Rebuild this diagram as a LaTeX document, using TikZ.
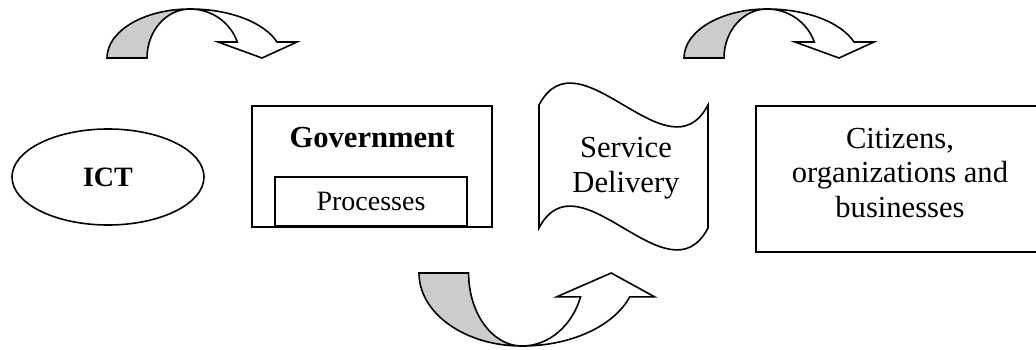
\documentclass[tikz,border=0pt]{standalone}
\usepackage{fontspec}
\setmainfont{Liberation Serif}
\usetikzlibrary{shapes.geometric,positioning}

\tikzset{
	box/.style={draw,rectangle,inner sep=0pt},
	small/.style={font=\fontsize{28}{32}\selectfont},
	% curved block arrow: shaded back face on the left, head on the right
	bentarrow/.pic={
		\filldraw[fill=black!20](0,0)arc[start angle=180,end angle=90,x radius=83,y radius=49]
			arc[start angle=90,end angle=180,x radius=43,y radius=49]--cycle;
		\filldraw[fill=white](83,49)arc[start angle=90,end angle=19.06,x radius=92,y radius=49]
			--(190,16)--(155,0)--(111,16)--(130.3,16)
			arc[start angle=19.06,end angle=90,x radius=50,y radius=49]--cycle;
	}
}

\begin{document}
\begin{tikzpicture}[x=1pt,y=1pt,line width=1.6pt,font=\fontsize{30.6}{34.5}\selectfont]
	\useasboundingbox(0,0)rectangle(1036,349);
	\clip(0,0)rectangle(1036,349);
	% the blocks
	\node[ellipse,draw,minimum width=192pt,minimum height=96pt,inner sep=0pt,
		font=\fontsize{28}{32}\selectfont\bfseries](ict)at(108,172){ICT};
	\node[box,minimum width=240pt,minimum height=121pt](gov)at(372,182.5){};
	\node[font=\fontsize{30.6}{34.5}\selectfont\bfseries,anchor=base](govname)at(372,202){Government};
	\node[box,small,minimum width=192pt,minimum height=49pt,anchor=south](proc)at(371,122){Processes};
	\draw(539,244)..controls(579,320)and(668,168)..(708,244)--(708,121)
		..controls(668,45)and(579,197)..(539,121)--cycle;
	\node[align=center](delivery)at(626,181){Service\\Delivery};
	\node[box,minimum width=288pt,minimum height=146pt](citizens)at(900,170){};
	\node[align=center](users)at([yshift=6pt]citizens.center)
		{Citizens,\\organizations and\\businesses};
	% the arrows
	\pic at(107,291){bentarrow};
	\pic at(684,291){bentarrow};
	\pic[xscale=1.24,yscale=-1.49] at(419,76){bentarrow};
\end{tikzpicture}
\end{document}
